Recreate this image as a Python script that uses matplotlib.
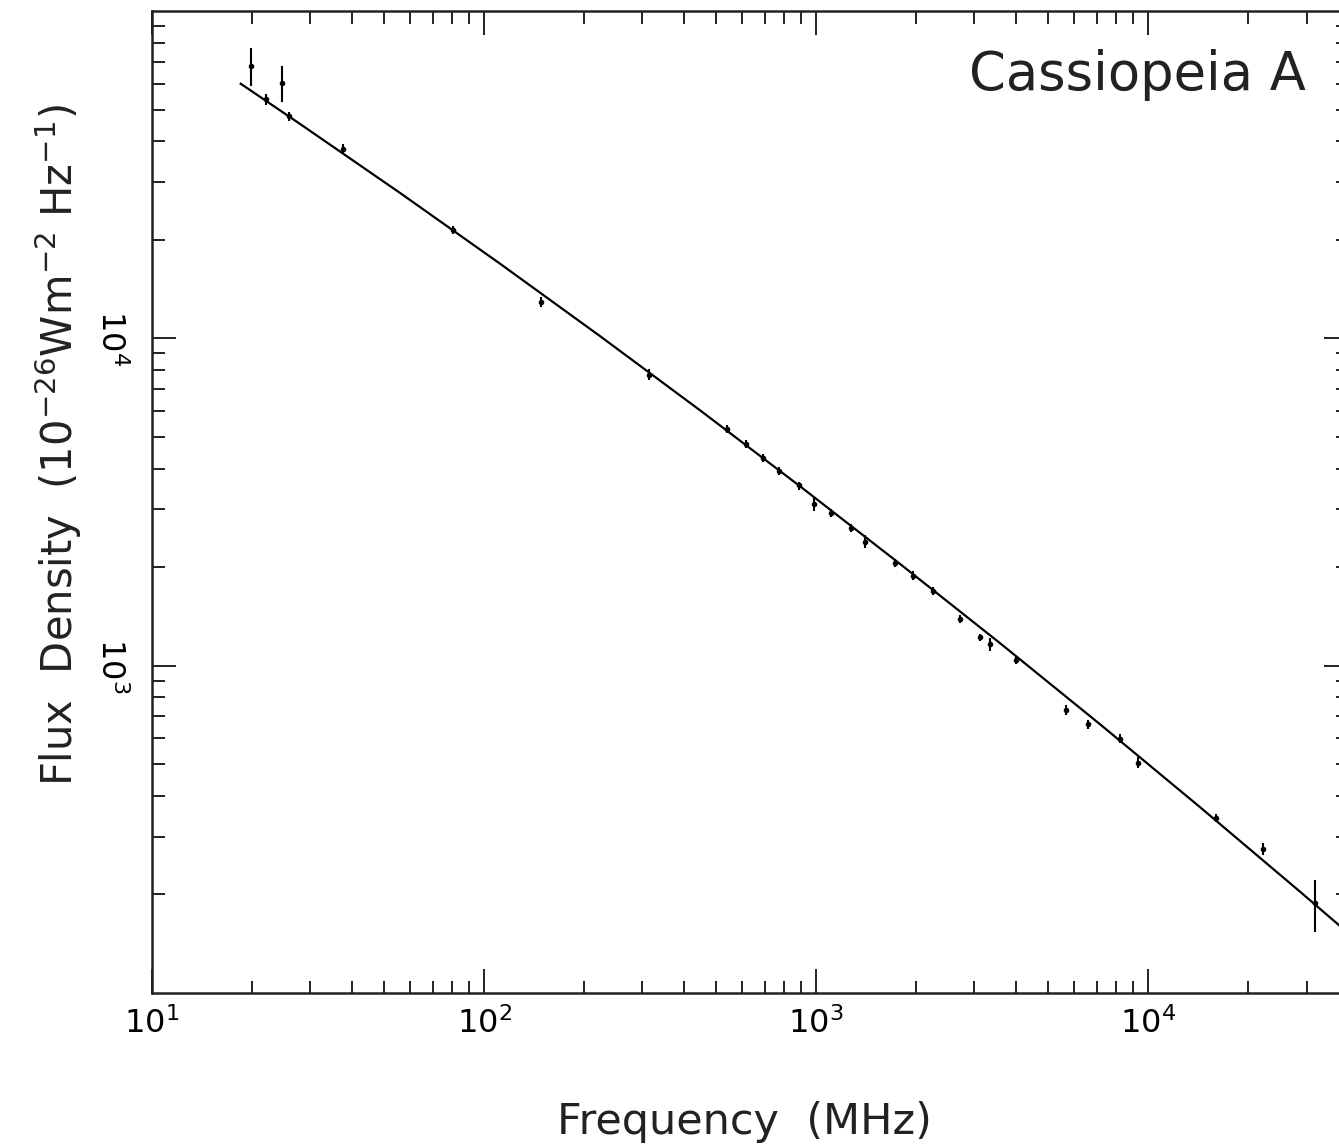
import matplotlib
matplotlib.use("Agg")
import matplotlib.pyplot as plt
import numpy as np
from matplotlib.ticker import FixedLocator, FixedFormatter, LogLocator, NullFormatter

# measured flux densities of Cas A (MHz, 1e-26 W m^-2 Hz^-1)
freq = [19.8, 22.0, 24.6, 25.9, 37.5, 80.8, 148, 313, 538, 616, 694, 774,
        889, 988, 1107, 1272, 1405, 1730, 1956, 2246, 2715, 3119, 3343,
        3996, 5662, 6611, 8236, 9311, 16030, 22250, 31840]
flux = [67900, 53700, 60400, 47700, 38000, 21500, 12900, 7745, 5295, 4752,
        4305, 3939, 3552, 3113, 2922, 2642, 2394, 2055, 1885, 1692, 1389,
        1221, 1162, 1041, 732, 662, 599, 506, 343, 276, 188]
err = [9000, 1900, 7500, 1500, 1200, 600, 450, 300, 150, 140, 120, 110,
       100, 150, 80, 75, 110, 60, 55, 50, 40, 30, 50, 30, 25, 20, 18, 20,
       10, 12, 34]

# fitted spectrum, points
fit_freq = [18.5, 27.91, 55.85, 111.7, 223.6, 447.4, 894.8, 1791, 3583,
            7169, 14340, 28690, 37620]
fit_flux = [59950, 45190, 27810, 16910, 10155, 6027, 3532, 2045, 1171,
            662, 369.5, 203.9, 161]

xticks = [1e1, 1e2, 1e3, 1e4]
xlabels = [r'$\mathregular{10^{1}}$', r'$\mathregular{10^{2}}$',
           r'$\mathregular{10^{3}}$', r'$\mathregular{10^{4}}$']
yticks = [1e3, 1e4]
ylabels = [r'$\mathregular{10^{3}}$', r'$\mathregular{10^{4}}$']

W, H = 1339, 1146
fig = plt.figure(figsize=(W / 100, H / 100), dpi=100)
ax = fig.add_axes([152 / W, (H - 993) / H, 1196 / W, (993 - 11) / H])
ax.set_xscale('log')
ax.set_yscale('log')
ax.set_xlim(10, 4e4)
ax.set_ylim(100, 1e5)

ax.plot(fit_freq, fit_flux, color='black', lw=1.6)
ax.errorbar(freq, flux, yerr=err, fmt='o', ms=3, color='black',
            ecolor='black', elinewidth=1.5, capsize=0)

ax.xaxis.set_major_locator(FixedLocator(xticks))
ax.xaxis.set_major_formatter(FixedFormatter(xlabels))
ax.yaxis.set_major_locator(FixedLocator(yticks))
ax.yaxis.set_major_formatter(FixedFormatter(ylabels))
ax.xaxis.set_minor_locator(LogLocator(base=10, subs=np.arange(2, 10)))
ax.yaxis.set_minor_locator(LogLocator(base=10, subs=np.arange(2, 10)))
ax.xaxis.set_minor_formatter(NullFormatter())
ax.yaxis.set_minor_formatter(NullFormatter())
ax.tick_params(which='both', direction='in', top=True, right=True,
               width=1.4, color='#222222')
ax.tick_params(which='major', length=17)
ax.tick_params(which='minor', length=9)
ax.tick_params(axis='x', which='major', labelsize=23, pad=10)
ax.tick_params(axis='y', which='major', labelsize=23, pad=18)
for lab in ax.get_xticklabels():
    lab.set_x(lab.get_position()[0])
for lab in ax.get_yticklabels():
    lab.set_rotation(-90)
    lab.set_va('center')
for sp in ax.spines.values():
    sp.set_linewidth(1.8)
    sp.set_color('#222222')

ax.text(0.965, 0.935, 'Cassiopeia A', transform=ax.transAxes, fontsize=38,
        ha='right', va='center', color='#222222')

fig.text(744 / W, 1 - 1122 / H, 'Frequency  (MHz)', fontsize=31,
         ha='center', va='center', color='#222222')
fig.text(58 / W, 1 - 445 / H,
         r'Flux  Density  (10$^{-26}$Wm$^{-2}$ Hz$^{-1}$)', fontsize=30,
         rotation=90, ha='center', va='center', color='#222222')

fig.savefig('out.png', dpi=100, facecolor='white')
